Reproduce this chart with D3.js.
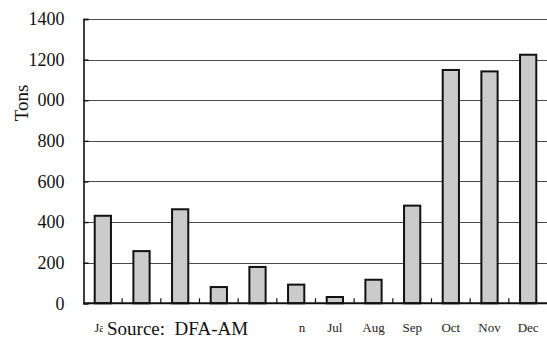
<!DOCTYPE html>
<html>
<head>
<meta charset="utf-8">
<script src="https://cdn.jsdelivr.net/npm/d3@7"></script>
<style>
  html, body { margin: 0; padding: 0; background: #fff; }
  svg { display: block; }
  svg text { font-family: "Liberation Serif", "Times New Roman", Times, "DejaVu Serif", serif; fill: #111; }
</style>
</head>
<body>
<svg id="chart" width="547" height="338"></svg>
<script>
// Monthly tonnage
const months = ["Jan", "Feb", "Mar", "Apr", "May", "Jun", "Jul", "Aug", "Sep", "Oct", "Nov", "Dec"];
const tons = [431, 257, 463, 80, 179, 92, 31, 116, 481, 1149, 1142, 1224];
const yTicks = [0, 200, 400, 600, 800, 1000, 1200, 1400];

const svg = d3.select("#chart");

const plotLeft = 83.5, plotRight = 547.5, plotTop = 19, plotBottom = 303.3;

const x = d3.scaleBand().domain(months).range([plotLeft, plotRight]).padding(0);
const y = d3.scaleLinear().domain([0, 1400]).range([plotBottom, plotTop]);

// horizontal gridlines
svg.append("g")
  .selectAll("line")
  .data(yTicks.filter(d => d > 0))
  .join("line")
  .attr("x1", plotLeft).attr("x2", plotRight)
  .attr("y1", d => Math.round(y(d)) + 0.5).attr("y2", d => Math.round(y(d)) + 0.5)
  .attr("stroke", "#4a4a4a").attr("stroke-width", 1);

// y axis
const yAxis = d3.axisLeft(y).tickValues(yTicks).tickSize(-5).tickPadding(19)
  .tickFormat(d3.format("d"));
const gy = svg.append("g").attr("transform", `translate(${plotLeft},0)`).call(yAxis);
gy.attr("font-family", null);
gy.select(".domain").attr("stroke", "#111").attr("stroke-width", 1.6);
gy.selectAll(".tick line").attr("stroke", "#111").attr("stroke-width", 1.4);
gy.selectAll("text").style("font-size", "18px");

// bars
const bw = x.bandwidth() * 0.42;
svg.append("g")
  .selectAll("rect")
  .data(months.map((m, i) => ({ m, v: tons[i] })))
  .join("rect")
  .attr("x", d => x(d.m) + (x.bandwidth() - bw) / 2)
  .attr("y", d => y(d.v))
  .attr("width", bw)
  .attr("height", d => y(0) - y(d.v))
  .attr("fill", "#cbcbcb")
  .attr("stroke", "#111").attr("stroke-width", 2);

// x axis with tick marks between categories
const xAxis = d3.axisBottom(x).tickSize(0).tickPadding(19);
const gx = svg.append("g").attr("transform", `translate(0,${plotBottom})`).call(xAxis);
gx.attr("font-family", null);
gx.select(".domain").remove();
gx.selectAll("text").style("font-size", "13px").style("fill", "#222");
svg.append("line")
  .attr("x1", plotLeft).attr("x2", plotRight).attr("y1", plotBottom).attr("y2", plotBottom)
  .attr("stroke", "#111").attr("stroke-width", 2);
svg.append("g")
  .selectAll("line")
  .data(months.slice(1))
  .join("line")
  .attr("x1", d => x(d)).attr("x2", d => x(d))
  .attr("y1", plotBottom).attr("y2", plotBottom - 5)
  .attr("stroke", "#111").attr("stroke-width", 1.2);

// axis title on a white backing
const titleG = svg.append("g").attr("transform", "translate(21,103) rotate(-90)");
titleG.append("rect").attr("x", -28).attr("y", -14).attr("width", 56).attr("height", 30).attr("fill", "#fff");
titleG.append("text")
  .attr("text-anchor", "middle").attr("dy", "0.35em")
  .style("font-size", "19px")
  .text("Tons");

// source note on a white backing
svg.append("rect").attr("x", 103).attr("y", 312).attr("width", 196).attr("height", 26).attr("fill", "#fff");
svg.append("text")
  .attr("x", 107).attr("y", 335)
  .style("font-size", "19px")
  .style("white-space", "pre")
  .text("Source:  DFA-AM");
</script>
</body>
</html>
